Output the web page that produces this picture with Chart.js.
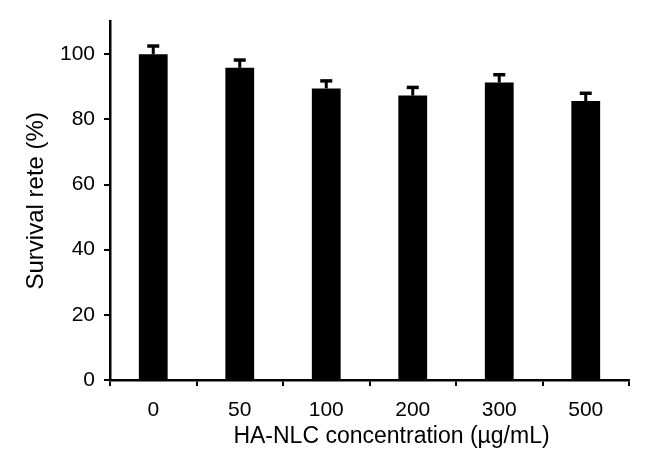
<!DOCTYPE html>
<html>
<head>
<meta charset="utf-8">
<script src="https://cdn.jsdelivr.net/npm/chart.js@4/dist/chart.umd.min.js"></script>
<style>
  html, body { margin: 0; padding: 0; background: #fff; }
  #wrap { width: 672px; height: 462px; }
</style>
</head>
<body>
<div id="wrap"><canvas id="survivalChart" width="672" height="462"></canvas></div>
<script>
// concentrations (µg/mL)
const labels = ['0', '50', '100', '200', '300', '500'];
// survival rate (%)
const survival = [100, 95.8, 89.5, 87.3, 91.3, 85.6];
// upper error (SD)
const errors = [2.5, 2.4, 2.3, 2.5, 2.4, 2.4];
const yTicks = [0, 20, 40, 60, 80, 100];

const family = 'Arial, "Liberation Sans", sans-serif';
const tickFont = { family: family, size: 21 };
const xTitle = 'HA-NLC concentration (µg/mL)';

// Рисуем планки погрешностей (только вверх)
const errorBarPlugin = {
    id: 'errorBars',
    afterDatasetsDraw(chart) {
        const ctx = chart.ctx;
        const meta = chart.getDatasetMeta(0);
        const y = chart.scales.y;
        ctx.save();
        ctx.strokeStyle = '#000';
        meta.data.forEach((bar, i) => {
            const top = y.getPixelForValue(survival[i] + errors[i]);
            ctx.lineWidth = 3;
            ctx.beginPath();
            ctx.moveTo(bar.x, bar.y);
            ctx.lineTo(bar.x, top);
            ctx.stroke();
            ctx.lineWidth = 3.5;
            ctx.beginPath();
            ctx.moveTo(bar.x - 6, top);
            ctx.lineTo(bar.x + 6, top);
            ctx.stroke();
        });
        ctx.restore();
    }
};

// Подпись оси X немного смещена вправо, как в оригинале
const xTitlePlugin = {
    id: 'xTitle',
    afterDraw(chart) {
        const ctx = chart.ctx;
        const area = chart.chartArea;
        ctx.save();
        ctx.fillStyle = '#000';
        ctx.font = '23px ' + family;
        ctx.textAlign = 'center';
        ctx.textBaseline = 'middle';
        ctx.fillText(xTitle, (area.left + area.right) / 2 + 22, area.bottom + 57);
        ctx.restore();
    }
};

new Chart(document.getElementById('survivalChart').getContext('2d'), {
    type: 'bar',
    data: {
        labels: labels,
        datasets: [{
            data: survival,
            backgroundColor: '#000',
            borderWidth: 0,
            barPercentage: 0.37,
            categoryPercentage: 0.9
        }]
    },
    options: {
        responsive: false,
        animation: false,
        layout: { padding: { left: 0, right: 43, top: 21, bottom: 0 } },
        plugins: {
            legend: { display: false },
            tooltip: { enabled: false }
        },
        scales: {
            x: {
                grid: { drawOnChartArea: false, drawTicks: true, tickLength: 6, color: '#000', lineWidth: 2 },
                border: { display: true, color: '#000', width: 2.5 },
                ticks: { color: '#000', font: tickFont, padding: 12 },
                title: { display: false },
                afterFit(scale) { scale.height = 82; }
            },
            y: {
                min: 0,
                max: 110,
                afterBuildTicks(scale) { scale.ticks = yTicks.map(v => ({ value: v })); },
                grid: { drawOnChartArea: false, drawTicks: true, tickLength: 6, color: '#000', lineWidth: 2 },
                border: { display: true, color: '#000', width: 2.5 },
                ticks: { color: '#000', font: tickFont, padding: 9 },
                title: { display: true, text: 'Survival rete (%)', color: '#000', font: { family: family, size: 24 }, padding: { top: 22, bottom: 0 } },
                afterFit(scale) { scale.width = 110; }
            }
        }
    },
    plugins: [errorBarPlugin, xTitlePlugin]
});
</script>
</body>
</html>
